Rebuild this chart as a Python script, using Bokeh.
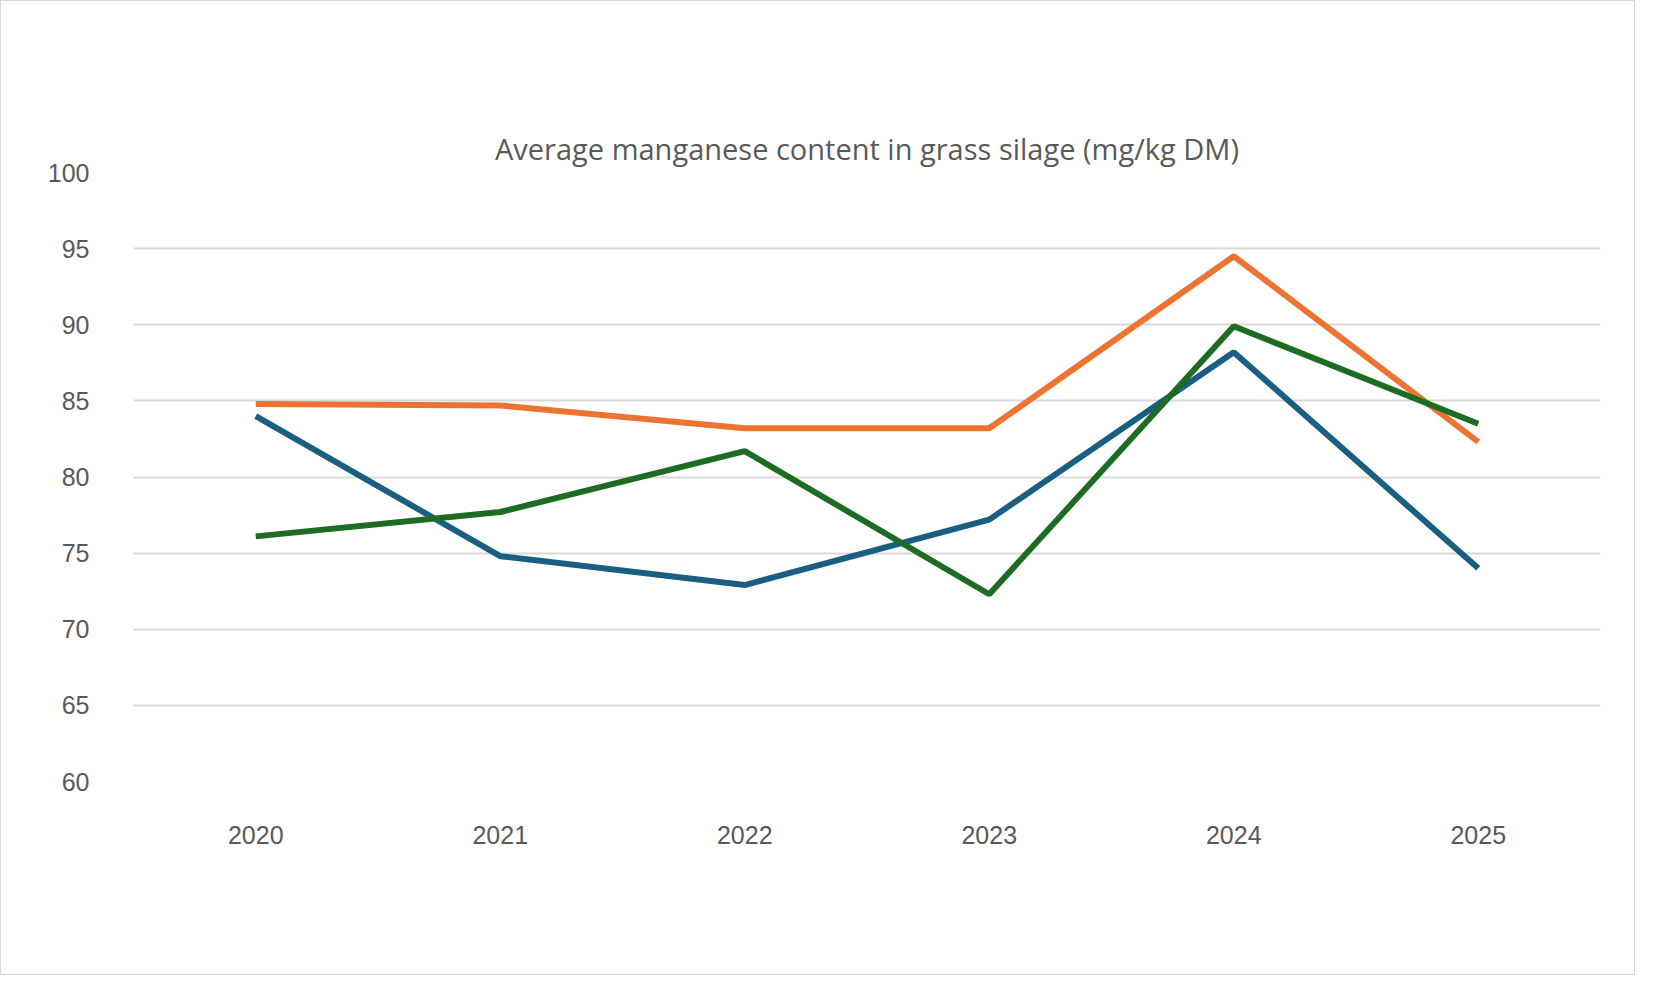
from bokeh.plotting import figure
from bokeh.models import Legend, LegendItem, FixedTicker
from bokeh.embed import file_html
from bokeh.resources import INLINE

years = ["2020", "2021", "2022", "2023", "2024", "2025"]
spring = [84.0, 74.8, 72.9, 77.2, 88.2, 74.0]
summer = [84.8, 84.7, 83.2, 83.2, 94.5, 82.3]
autumn = [76.1, 77.7, 81.7, 72.3, 89.9, 83.5]
series = [("Spring", spring, "#1a5e82"), ("Summer", summer, "#ec7332"), ("Autumn", autumn, "#1e6b24")]

xs = list(range(len(years)))
p = figure(width=1635, height=975, x_range=(-0.5, 5.5), y_range=(60, 100),
           output_backend="svg", toolbar_location=None,
           min_border_left=132, min_border_right=36, min_border_top=171, min_border_bottom=195)
p.styles = {"border": "1px solid #d9d9d9"}
p.title.text = "Average manganese content in grass silage (mg/kg DM)"
p.title.align = "center"
p.title.text_font = "Open Sans"
p.title.text_font_size = "29px"
p.title.text_font_style = "normal"
p.title.text_color = "#595959"
p.outline_line_color = None

items = []
for name, vals, col in series:
    r = p.line(xs, vals, line_color=col, line_width=6)
    items.append(LegendItem(label=name, renderers=[r]))

p.xaxis.ticker = FixedTicker(ticks=xs)
p.xaxis.major_label_overrides = {i: y for i, y in enumerate(years)}
p.yaxis.ticker = FixedTicker(ticks=list(range(60, 101, 5)))
for ax in (p.xaxis, p.yaxis):
    ax.axis_line_color = None
    ax.major_tick_line_color = None
    ax.minor_tick_line_color = None
    ax.major_label_text_font = "Liberation Sans"
    ax.major_label_text_font_size = "25px"
    ax.major_label_text_color = "#595959"
p.xaxis.major_label_standoff = 38
p.yaxis.major_label_standoff = 38
p.xgrid.grid_line_color = None
p.ygrid.grid_line_color = "#d9d9d9"
p.ygrid.grid_line_width = 2

leg = Legend(items=items, orientation="horizontal", location=(322, -165),
             label_text_font="Open Sans", label_text_font_size="25px",
             label_text_color="#595959", glyph_width=95, glyph_height=20,
             spacing=80, border_line_color=None, background_fill_alpha=0,
             padding=0, margin=0, label_standoff=2)
p.add_layout(leg, "center")

open("out.html", "w").write(file_html(p, INLINE))
